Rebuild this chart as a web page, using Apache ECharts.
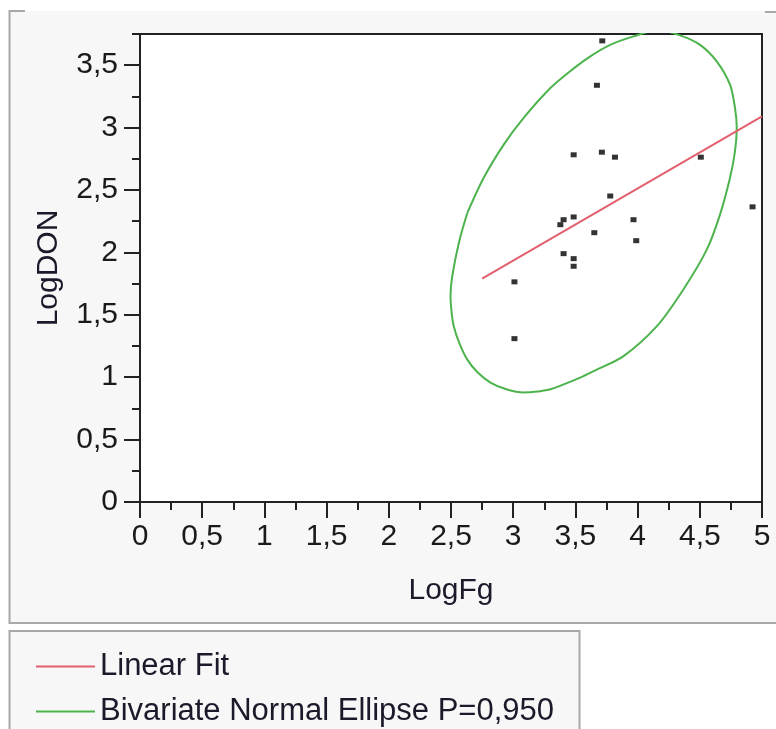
<!DOCTYPE html>
<html>
<head>
<meta charset="utf-8">
<script src="https://cdn.jsdelivr.net/npm/echarts@6/dist/echarts.min.js"></script>
<style>
html,body{margin:0;padding:0;background:#fff;}
#chart{width:776px;height:729px;}
</style>
</head>
<body>
<div id="chart"></div>
<script>
// Scatter data (LogFg, LogDON)
const fgValues  = [3.716, 3.673, 3.486, 3.713, 3.818, 4.508, 3.780, 4.924, 3.405, 3.379, 3.486, 3.967, 3.652, 3.989, 3.405, 3.486, 3.486, 3.010, 3.010];
const donValues = [3.695, 3.339, 2.782, 2.803, 2.763, 2.763, 2.452, 2.365, 2.262, 2.222, 2.284, 2.262, 2.158, 2.094, 1.990, 1.950, 1.889, 1.764, 1.309];

// Linear fit end points
const fitX = [2.75, 5.0];
const fitY = [1.79, 3.09];

// Bivariate normal ellipse outline
const ellipseX = [2.632, 2.763, 2.924, 3.084, 3.299, 3.450, 3.620, 3.780, 3.967, 4.165, 4.342, 4.502, 4.636, 4.743, 4.783, 4.797, 4.783, 4.743, 4.663, 4.556, 4.368, 4.155, 3.887, 3.660, 3.539, 3.299, 3.194, 3.084, 2.945, 2.817, 2.713, 2.630, 2.568, 2.522, 2.504, 2.496, 2.510, 2.563, 2.632];
const ellipseY = [2.318, 2.598, 2.864, 3.078, 3.317, 3.446, 3.571, 3.663, 3.731, 3.781, 3.739, 3.663, 3.531, 3.344, 3.157, 2.998, 2.811, 2.598, 2.305, 2.022, 1.703, 1.409, 1.169, 1.055, 0.997, 0.903, 0.885, 0.877, 0.903, 0.957, 1.039, 1.143, 1.271, 1.409, 1.527, 1.649, 1.809, 2.076, 2.318];

// Axis ticks
const yMajorTicks = [0, 0.5, 1, 1.5, 2, 2.5, 3, 3.5];
const xLabelName = 'LogFg';
const yLabelName = 'LogDON';
const legendNames = ['Linear Fit', 'Bivariate Normal Ellipse P=0,950'];

const chart = echarts.init(document.getElementById('chart'));
const fmt = v => String(v).replace('.', ',');
const FONT = '"Liberation Sans", Arial, sans-serif';
const AX = '#222';
const legendBase = {
  orient: 'vertical',
  left: 31,
  icon: 'rect',
  itemWidth: 59, itemHeight: 2,
  textStyle: { fontFamily: FONT, fontSize: 31, color: '#1a1a2a' },
  selectedMode: false
};

const option = {
  animation: false,
  backgroundColor: '#ffffff',
  textStyle: { fontFamily: FONT },
  graphic: [
    { type: 'rect', z: -10, shape: { x: 9, y: 11, width: 780, height: 612 },
      style: { fill: '#f7f7f7', stroke: null } },
    { type: 'polyline', z: -9, shape: { points: [[25, 11], [9.5, 11], [9.5, 623], [790, 623]] },
      style: { stroke: '#a8a8a8', lineWidth: 2, fill: null } },
    { type: 'polyline', z: -9, shape: { points: [[765, 12], [790, 12]] },
      style: { stroke: '#a8a8a8', lineWidth: 2, fill: null } },
    { type: 'rect', z: -10, shape: { x: 9.5, y: 631, width: 570, height: 110 },
      style: { fill: '#f7f7f7', stroke: '#a8a8a8', lineWidth: 2 } }
  ],
  grid: {
    left: 140, right: 14, top: 34, bottom: 227,
    show: true, backgroundColor: '#ffffff', borderColor: AX, borderWidth: 2
  },
  legend: [
    Object.assign({}, legendBase, { data: [legendNames[0]], top: 646 }),
    Object.assign({}, legendBase, { data: [legendNames[1]], top: 691 })
  ],
  xAxis: {
    type: 'value', min: 0, max: 5, interval: 0.5,
    name: xLabelName, nameLocation: 'middle', nameGap: 74,
    nameTextStyle: { fontFamily: FONT, fontSize: 30, color: '#1a1a2a' },
    axisLine: { show: true, onZero: false, lineStyle: { color: AX, width: 2 } },
    axisTick: { show: true, length: 16, lineStyle: { color: AX, width: 2 } },
    minorTick: { show: true, splitNumber: 2, length: 8, lineStyle: { color: AX, width: 2 } },
    axisLabel: { formatter: fmt, fontFamily: FONT, fontSize: 30, color: '#1a1a1a', margin: 20 },
    splitLine: { show: false }, minorSplitLine: { show: false }
  },
  yAxis: [
    {
      type: 'value', min: 0, max: 3.75, interval: 0.5,
      name: yLabelName, nameLocation: 'middle', nameGap: 76,
      nameTextStyle: { fontFamily: FONT, fontSize: 30, color: '#1a1a2a' },
      axisLine: { show: true, onZero: false, lineStyle: { color: AX, width: 2 } },
      axisTick: { show: true, length: 16, customValues: yMajorTicks, lineStyle: { color: AX, width: 2 } },
      axisLabel: { customValues: yMajorTicks, formatter: fmt, fontFamily: FONT, fontSize: 30, color: '#1a1a1a', margin: 22 },
      splitLine: { show: false }
    },
    {
      type: 'value', min: 0, max: 3.75, interval: 0.25, position: 'left',
      axisLine: { show: false },
      axisTick: { show: true, length: 8, lineStyle: { color: AX, width: 2 } },
      axisLabel: { show: false },
      splitLine: { show: false }
    }
  ],
  series: [
    {
      name: 'data', type: 'scatter', yAxisIndex: 0,
      symbol: 'rect', symbolSize: [6, 5],
      itemStyle: { color: '#000' },
      data: fgValues.map((x, i) => [x, donValues[i]]),
      z: 5
    },
    {
      name: legendNames[0], type: 'line', yAxisIndex: 0,
      showSymbol: false, symbol: 'none',
      lineStyle: { color: '#e2606e', width: 2 },
      itemStyle: { color: '#e2606e' },
      data: fitX.map((x, i) => [x, fitY[i]]),
      z: 4
    },
    {
      name: legendNames[1], type: 'line', yAxisIndex: 0,
      showSymbol: false, symbol: 'none', smooth: 0.3, clip: true,
      lineStyle: { color: '#4db34d', width: 2 },
      itemStyle: { color: '#4db34d' },
      data: ellipseX.map((x, i) => [x, ellipseY[i]]),
      z: 3
    }
  ]
};
chart.setOption(option);
</script>
</body>
</html>
